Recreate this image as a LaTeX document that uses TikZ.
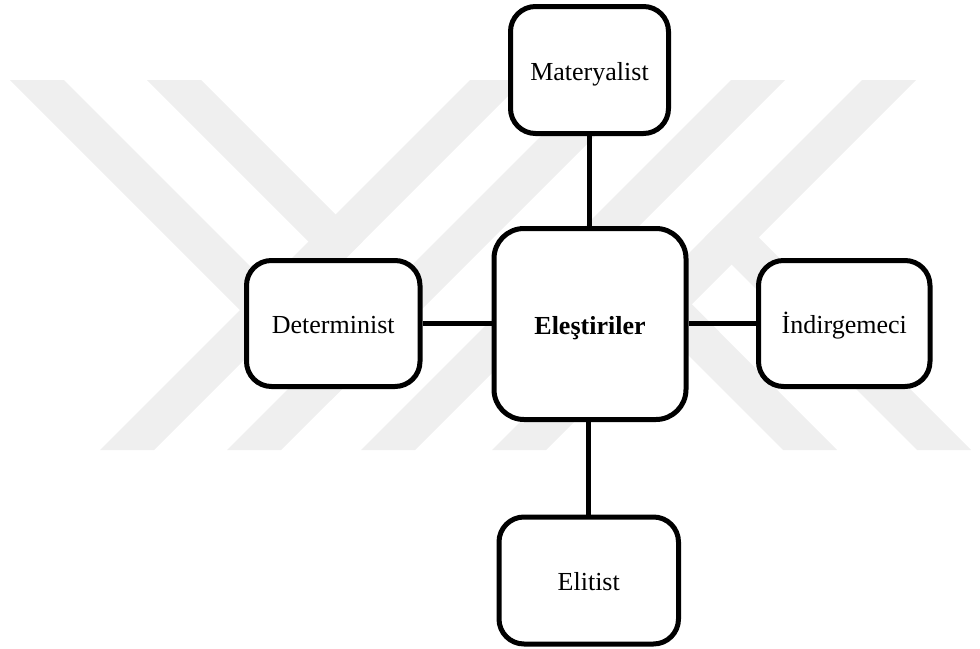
\documentclass[tikz,border=0pt]{standalone}
\usepackage{fontspec}
\setmainfont{Liberation Serif}
\definecolor{wm}{RGB}{239,239,239}
\begin{document}
\begin{tikzpicture}[x=1pt,y=-1pt,
  box/.style={draw, line width=5pt, rounded corners=25pt, fill=white,
    inner sep=0pt, text height=20pt, text depth=0pt,
    font=\fontsize{26}{30}\selectfont},
  link/.style={line width=5pt},
  wmark/.style={fill=wm, draw=none}]
\useasboundingbox (0,0) rectangle (980,648);
% watermark: "/" bands
\foreach \T in {470,597,731,862}{
  \fill[wmark] (\T,80) -- (\T+54,80) -- (\T+54-370,450) -- (\T-370,450) -- cycle;
}
% "\" arms ending at "/" bands
\fill[wmark] (10,80) -- (64,80) -- (357.5,373.5) -- (330.5,400.5) -- cycle;
\fill[wmark] (147,80) -- (201,80) -- (362.5,241.5) -- (335.5,268.5) -- cycle;
% "\" legs starting at "/" bands
\fill[wmark] (600,212) -- (572,239) -- (783,450) -- (837,450) -- cycle;
\fill[wmark] (732,210.5) -- (704.5,237.5) -- (917,450) -- (971,450) -- cycle;
% nodes
\node[box, minimum width=158pt, minimum height=127pt] (mat) at (589.5,70) {Materyalist};
\node[box, minimum width=192pt, minimum height=191pt, rounded corners=30pt,
  font=\fontsize{26}{30}\selectfont\bfseries] (ele) at (590,324) {Eleştiriler};
\node[box, minimum width=173.5pt, minimum height=126pt] (det) at (333.25,323.5) {Determinist};
\node[box, minimum width=171.5pt, minimum height=126pt] (ind) at (844.25,323.5) {İndirgemeci};
\node[box, minimum width=179.5pt, minimum height=127pt] (eli) at (588.75,580.5) {Elitist};
% connectors
\draw[link] (mat.south) -- (mat.south |- ele.north);
\draw[link] (eli.north) -- (eli.north |- ele.south);
\draw[link] (det.east) -- (det.east -| ele.west);
\draw[link] (ind.west) -- (ind.west -| ele.east);
\end{tikzpicture}
\end{document}
